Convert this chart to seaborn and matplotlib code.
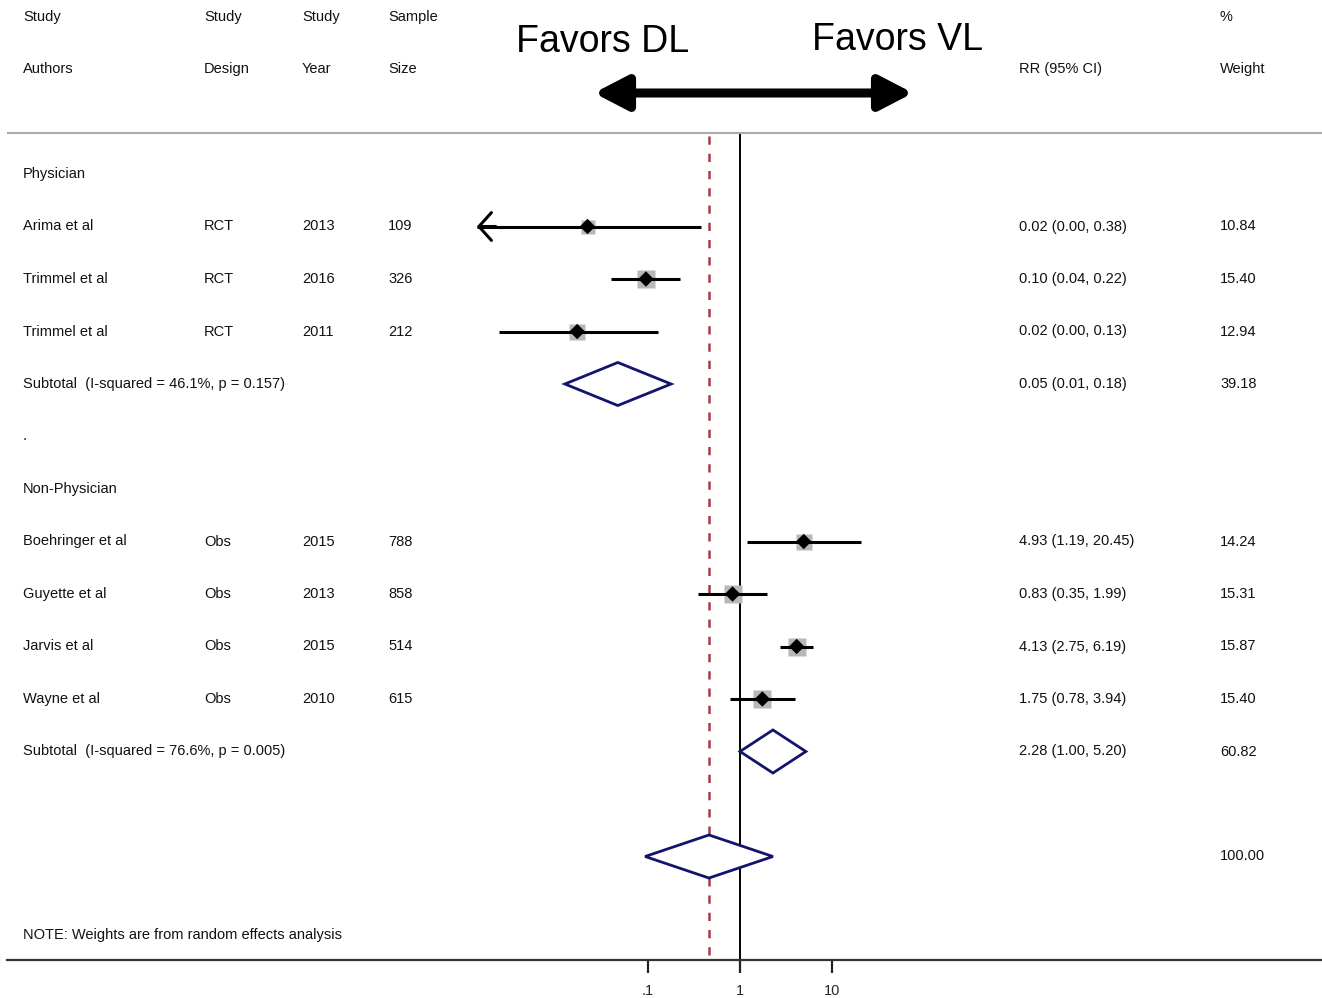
import numpy as np
import pandas as pd
import matplotlib
matplotlib.use("Agg")
import matplotlib.pyplot as plt
import seaborn as sns

# ---- study data -------------------------------------------------------
authors = ["Arima et al", "Trimmel et al", "Trimmel et al",
           "Boehringer et al", "Guyette et al", "Jarvis et al", "Wayne et al"]
designs = ["RCT", "RCT", "RCT", "Obs", "Obs", "Obs", "Obs"]
years = ["2013", "2016", "2011", "2015", "2013", "2015", "2010"]
sizes = ["109", "326", "212", "788", "858", "514", "615"]
rr = [0.022, 0.095, 0.017, 4.93, 0.83, 4.13, 1.75]
rr_lo = [0.001, 0.04, 0.0024, 1.19, 0.35, 2.75, 0.78]
rr_hi = [0.38, 0.22, 0.13, 20.45, 1.99, 6.19, 3.94]
rr_text = ["0.02 (0.00, 0.38)", "0.10 (0.04, 0.22)", "0.02 (0.00, 0.13)",
           "4.93 (1.19, 20.45)", "0.83 (0.35, 1.99)", "4.13 (2.75, 6.19)",
           "1.75 (0.78, 3.94)"]
weights = [10.84, 15.40, 12.94, 14.24, 15.31, 15.87, 15.40]
study_rows = [1, 2, 3, 7, 8, 9, 10]

# ---- pooled estimates ---------------------------------------------------
sub_labels = ["Subtotal  (I-squared = 46.1%, p = 0.157)",
              "Subtotal  (I-squared = 76.6%, p = 0.005)"]
sub_rr = [0.047, 2.28]
sub_lo = [0.0125, 1.00]
sub_hi = [0.178, 5.20]
sub_text = ["0.05 (0.01, 0.18)", "2.28 (1.00, 5.20)"]
sub_weight = ["39.18", "60.82"]
sub_rows = [4, 11]

overall_rr = 0.46
overall_lo = 0.093
overall_hi = 2.28
overall_weight = "100.00"
overall_row = 13

group_labels = ["Physician", "Non-Physician"]
group_rows = [0, 6]

tick_vals = [0.1, 1, 10]
tick_labels = [".1", "1", "10"]

# lower edge of the plotted CI range (CIs below it end in an arrow)
ci_floor = 0.00138

df = pd.DataFrame({"row": study_rows, "rr": rr, "lo": rr_lo, "hi": rr_hi,
                   "w": weights})

# ---- figure ------------------------------------------------------------
sns.set_theme(style="white")
plt.rcParams["font.family"] = ["Liberation Sans", "DejaVu Sans"]

W, H = 1322, 998
fig = plt.figure(figsize=(W / 100, H / 100), dpi=100)
ax = fig.add_axes([7 / W, 38 / H, 1315 / W, 960 / H])

px_per_decade = 92.0
x_one = 740.0
ax.set_xscale("log")
ax.set_xlim(10 ** ((7 - x_one) / px_per_decade),
            10 ** ((1322 - x_one) / px_per_decade))
row_h = 52.5
row0_px = 174.0
ax.set_ylim((960 - row0_px) / row_h, -row0_px / row_h)

for s in ["top", "right", "left"]:
    ax.spines[s].set_visible(False)
ax.spines["bottom"].set_color("#333333")
ax.spines["bottom"].set_linewidth(1.6)
ax.set_yticks([])
ax.set_xticks(tick_vals)
ax.set_xticklabels(tick_labels)
ax.minorticks_off()
ax.tick_params(axis="x", which="major", direction="out", length=9, width=1.6,
               color="#222222", labelsize=10.5, pad=8, bottom=True)
ax.grid(False)


def fx(px):
    """Horizontal pixel position -> axes fraction."""
    return (px - 7) / 1315


ytr = ax.get_yaxis_transform()
txt_kw = dict(fontsize=10.5, color="#111111", va="center", transform=ytr)

y_hdr1 = (17 - row0_px) / row_h
y_hdr2 = (69 - row0_px) / row_h
y_rule = (133 - row0_px) / row_h
y_bottom = (960 - row0_px) / row_h

# header
for px, top, bot in [(23, "Study", "Authors"), (204, "Study", "Design"),
                     (302, "Study", "Year"), (388, "Sample", "Size"),
                     (1220, "%", "Weight")]:
    ax.text(fx(px), y_hdr1, top, **txt_kw)
    ax.text(fx(px), y_hdr2, bot, **txt_kw)
ax.text(fx(1019), y_hdr2, "RR (95% CI)", **txt_kw)

ax.text(fx(603), (42 - row0_px) / row_h, "Favors DL", fontsize=27,
        color="black", ha="center", va="center", transform=ytr)
ax.text(fx(897), (40 - row0_px) / row_h, "Favors VL", fontsize=27,
        color="black", ha="center", va="center", transform=ytr)
ax.annotate("", xy=(594, H - 93), xytext=(913, H - 93),
            xycoords="figure pixels", textcoords="figure pixels",
            arrowprops=dict(arrowstyle="<|-|>,head_length=1.0,head_width=0.52",
                            lw=6.5, color="black", mutation_scale=20,
                            shrinkA=0, shrinkB=0))

ax.axhline(y_rule, color="#aaaaaa", lw=1.5)

# reference lines
ax.vlines(1, y_rule, y_bottom, color="black", lw=1.4, zorder=1)
ax.vlines(overall_rr, y_rule + 0.05, y_bottom, color="#ab3a47", lw=1.8,
          linestyles=(0, (3.3, 3.6)), zorder=1)

# group labels
for r, g in zip(group_rows, group_labels):
    ax.text(fx(23), r, g, **txt_kw)
ax.text(fx(23), 5, ".", **txt_kw)

# study rows
for i, r in enumerate(study_rows):
    ax.text(fx(23), r, authors[i], **txt_kw)
    ax.text(fx(204), r, designs[i], **txt_kw)
    ax.text(fx(302), r, years[i], **txt_kw)
    ax.text(fx(388), r, sizes[i], **txt_kw)
    ax.text(fx(1019), r, rr_text[i], **txt_kw)
    ax.text(fx(1220), r, f"{weights[i]:.2f}", **txt_kw)
    if rr_lo[i] < ci_floor:
        ax.plot([ci_floor, rr_hi[i]], [r, r], color="black", lw=2.2,
                solid_capstyle="butt", zorder=3)
        ax.annotate("", xy=(ci_floor, r), xytext=(ci_floor * 1.6, r),
                    arrowprops=dict(arrowstyle="->,head_length=0.45,head_width=0.5",
                                    lw=2.2, color="black", mutation_scale=20,
                                    shrinkA=0, shrinkB=0))
    else:
        ax.plot([rr_lo[i], rr_hi[i]], [r, r], color="black", lw=2.2,
                solid_capstyle="butt", zorder=3)

# weighted squares with point estimates
for _, row in df.iterrows():
    ax.plot(row["rr"], row["row"], marker="s", ms=3.2 * np.sqrt(row["w"]),
            color="#b8b8b8", mec="none", zorder=2, linestyle="none")
sns.scatterplot(data=df, x="rr", y="row", marker="D", s=62, color="black",
                edgecolor="none", zorder=4, ax=ax, legend=False)
ax.set_xlabel("")
ax.set_ylabel("")


def diamond(est, lo, hi, y, half=0.41):
    xs = [lo, est, hi, est, lo]
    ys = [y, y - half, y, y + half, y]
    ax.fill(xs, ys, facecolor="white", edgecolor="#14146e", lw=2.0, zorder=5)


for i, r in enumerate(sub_rows):
    ax.text(fx(23), r, sub_labels[i], **txt_kw)
    ax.text(fx(1019), r, sub_text[i], **txt_kw)
    ax.text(fx(1220), r, sub_weight[i], **txt_kw)
    diamond(sub_rr[i], sub_lo[i], sub_hi[i], r)

diamond(overall_rr, overall_lo, overall_hi, overall_row)
ax.text(fx(1220), overall_row, overall_weight, **txt_kw)

ax.text(fx(23), (935 - row0_px) / row_h,
        "NOTE: Weights are from random effects analysis", **txt_kw)

fig.savefig("out.png", dpi=100, facecolor="white")
